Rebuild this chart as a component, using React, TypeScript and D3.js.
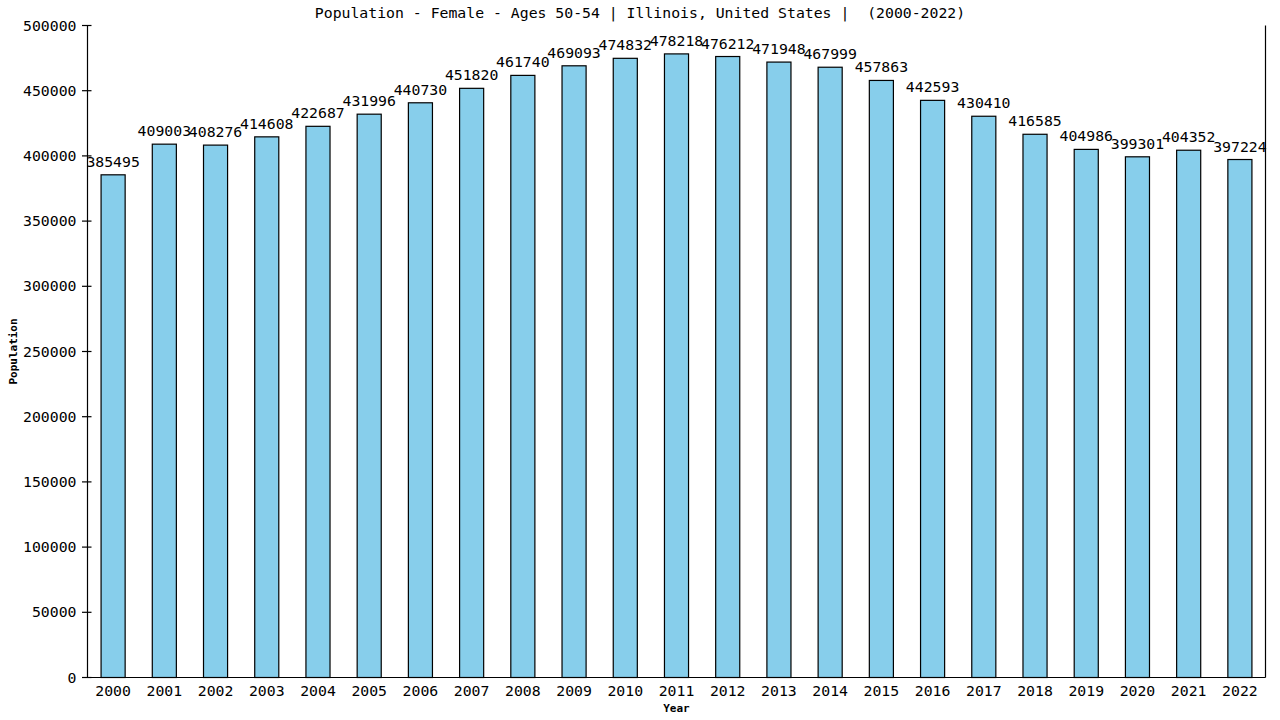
import React, { useEffect, useRef } from "react";
import * as d3 from "d3";

const title = "Population - Female - Ages 50-54 | Illinois, United States |  (2000-2022)";
const years = [
  "2000", "2001", "2002", "2003", "2004", "2005", "2006", "2007", "2008", "2009", "2010", "2011",
  "2012", "2013", "2014", "2015", "2016", "2017", "2018", "2019", "2020", "2021", "2022",
];
const population = [
  385495, 409003, 408276, 414608, 422687, 431996, 440730, 451820, 461740, 469093, 474832, 478218,
  476212, 471948, 467999, 457863, 442593, 430410, 416585, 404986, 399301, 404352, 397224,
];
const yTicks = [0, 50000, 100000, 150000, 200000, 250000, 300000, 350000, 400000, 450000, 500000];

const W = 1280;
const H = 720;
const font = "'DejaVu Sans Mono', monospace";
const fs = 14.8;

export default function App() {
  const svgRef = useRef<SVGSVGElement>(null);

  useEffect(() => {
    if (!svgRef.current) return;
    const svg = d3.select(svgRef.current);
    svg.selectAll("*").remove();

    const left = 87.5, right = 1265.5, top = 25.5, bottom = 677.5;

    const x = d3.scaleBand<string>().domain(years).range([left, right])
      .paddingInner(0.53).paddingOuter(0.265);
    const y = d3.scaleLinear().domain([0, 500000]).range([bottom, top]);

    svg.append("rect").attr("width", W).attr("height", H).attr("fill", "#fff");

    // bars
    svg.append("g").selectAll("rect")
      .data(population)
      .join("rect")
      .attr("x", (_, i) => x(years[i])!)
      .attr("y", d => y(d))
      .attr("width", x.bandwidth())
      .attr("height", d => bottom - y(d))
      .attr("fill", "#87CEEB")
      .attr("stroke", "#000")
      .attr("stroke-width", 1.2);

    // value labels
    svg.append("g").selectAll("text")
      .data(population)
      .join("text")
      .attr("x", (_, i) => x(years[i])! + x.bandwidth() / 2)
      .attr("y", d => y(d) - 8)
      .attr("text-anchor", "middle")
      .attr("font-family", font)
      .attr("font-size", fs)
      .attr("fill", "#000")
      .text(d => String(d));

    // axes lines
    const axisG = svg.append("g").attr("stroke", "#000").attr("stroke-width", 1.2);
    axisG.append("line").attr("x1", left).attr("x2", left).attr("y1", top).attr("y2", bottom);
    axisG.append("line").attr("x1", right).attr("x2", right).attr("y1", top).attr("y2", bottom);
    axisG.append("line").attr("x1", left).attr("x2", right).attr("y1", bottom).attr("y2", bottom);

    // y ticks
    const yt = svg.append("g");
    yt.selectAll("line")
      .data(yTicks)
      .join("line")
      .attr("x1", left - 5.5).attr("x2", left + 4)
      .attr("y1", d => y(d)).attr("y2", d => y(d))
      .attr("stroke", "#000").attr("stroke-width", 1.2);
    yt.selectAll("text")
      .data(yTicks)
      .join("text")
      .attr("x", left - 11)
      .attr("y", d => y(d) + 5)
      .attr("text-anchor", "end")
      .attr("font-family", font)
      .attr("font-size", fs)
      .text(d => String(d));

    // x labels
    svg.append("g").selectAll("text")
      .data(years)
      .join("text")
      .attr("x", d => x(d)! + x.bandwidth() / 2)
      .attr("y", bottom + 18)
      .attr("text-anchor", "middle")
      .attr("font-family", font)
      .attr("font-size", fs)
      .text(d => d);

    // title and axis names
    svg.append("text")
      .attr("x", W / 2).attr("y", 18)
      .attr("text-anchor", "middle")
      .attr("font-family", font)
      .attr("font-size", fs)
      .style("white-space", "pre")
      .text(title);

    svg.append("text")
      .attr("x", (left + right) / 2).attr("y", 712)
      .attr("text-anchor", "middle")
      .attr("font-family", font)
      .attr("font-size", 11)
      .attr("font-weight", "bold")
      .text("Year");

    svg.append("text")
      .attr("transform", `translate(17,${(top + bottom) / 2}) rotate(-90)`)
      .attr("text-anchor", "middle")
      .attr("font-family", font)
      .attr("font-size", 11)
      .attr("font-weight", "bold")
      .text("Population");
  }, []);

  return (
    <svg
      ref={svgRef}
      width={W}
      height={H}
      style={{ position: "absolute", left: 0, top: 0, display: "block" }}
    />
  );
}
